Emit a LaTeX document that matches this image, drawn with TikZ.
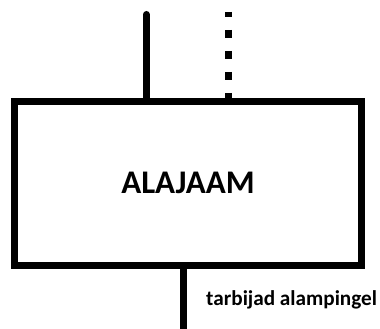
\documentclass[tikz,border=0pt]{standalone}
\usepackage{fontspec}
\setmainfont{Carlito}
\begin{document}
\begin{tikzpicture}[x=1pt,y=1pt,
  wire/.style={line width=7pt},
  mainbox/.style={draw,line width=7.3pt,minimum width=346.5pt,minimum height=164.3pt,inner sep=0pt,font=\fontsize{33}{40}\selectfont\bfseries},
  lbl/.style={font=\fontsize{21.2}{25}\selectfont\bfseries,inner sep=0pt,anchor=base west}]
\useasboundingbox (0,0) rectangle (380,329);
\node[mainbox] (box) at (188,145.65) {ALAJAAM};
\coordinate (topA) at (146.3,314.5);
\coordinate (topB) at (228.3,317);
\coordinate (botC) at (183.7,0);
\draw[wire,line cap=round] (topA) -- (topA |- box.north);
\draw[wire,dash pattern=on 8.5pt off 12.5pt,dash phase=3pt] (topB) -- (topB |- box.north);
\draw[wire] (box.south -| botC) -- (botC);
\node[lbl] (lab) at (206,23.3) {tarbijad alampingel};
\end{tikzpicture}
\end{document}
